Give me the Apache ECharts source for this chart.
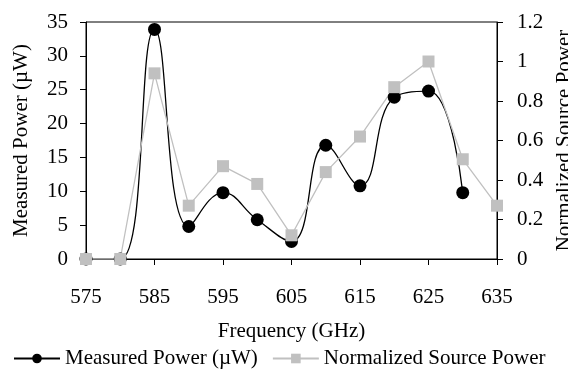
<!DOCTYPE html>
<html>
<head>
<meta charset="utf-8">
<script src="https://cdn.jsdelivr.net/npm/echarts@6/dist/echarts.min.js"></script>
<style>
  html, body { margin: 0; padding: 0; background: #fff; }
  #chart { width: 568px; height: 374px; }
</style>
</head>
<body>
<div id="chart"></div>
<script>
// frequencies in GHz
var freqMeasured = [575, 580, 585, 590, 595, 600, 605, 610, 615, 620, 625, 630];
var measuredPower = [0, 0, 33.9, 4.8, 9.8, 5.8, 2.6, 16.8, 10.8, 23.9, 24.8, 9.8];
var freqSource = [575, 580, 585, 590, 595, 600, 605, 610, 615, 620, 625, 630, 635];
var sourcePower = [0, 0, 0.94, 0.27, 0.47, 0.38, 0.12, 0.44, 0.62, 0.87, 1.0, 0.505, 0.27];

function pairs(xs, ys) {
    var out = [];
    for (var i = 0; i < xs.length; i++) out.push([xs[i], ys[i]]);
    return out;
}

var font = "'Liberation Serif', 'Times New Roman', serif";
var txt = { color: '#000', fontFamily: font, fontSize: 21 };

var myChart = echarts.init(document.getElementById('chart'));
var option = {
    animation: false,
    textStyle: txt,
    grid: {
        left: 86, right: 71, top: 22, bottom: 115,
        outerBoundsMode: 'none',
        containLabel: false,
        show: true, borderColor: '#000', borderWidth: 1
    },
    legend: {
        bottom: 0,
        left: 8,
        itemWidth: 46,
        itemHeight: 12,
        itemGap: 14,
        textStyle: txt,
        data: ['Measured Power (\u00b5W)', 'Normalized Source Power']
    },
    xAxis: {
        type: 'value',
        min: 575, max: 635, interval: 10,
        name: 'Frequency (GHz)',
        nameLocation: 'middle',
        nameGap: 62,
        nameTextStyle: txt,
        axisLine: { lineStyle: { color: '#000', width: 1 } },
        axisTick: { show: true, length: 6, lineStyle: { color: '#000' } },
        axisLabel: { margin: 28, color: '#000', fontFamily: font, fontSize: 21 },
        splitLine: { show: false }
    },
    yAxis: [
        {
            type: 'value',
            min: 0, max: 35, interval: 5,
            name: 'Measured Power (\u00b5W)',
            nameLocation: 'middle',
            nameGap: 54,
            nameTextStyle: txt,
            axisLine: { show: true, lineStyle: { color: '#000', width: 1 } },
            axisTick: { show: true, length: 6, lineStyle: { color: '#000' } },
            axisLabel: { margin: 18, color: '#000', fontFamily: font, fontSize: 21 },
            splitLine: { show: false }
        },
        {
            type: 'value',
            min: 0, max: 1.2, interval: 0.2,
            position: 'right',
            name: 'Normalized Source Power',
            nameLocation: 'middle',
            nameRotate: 90,
            nameGap: 56,
            nameTextStyle: txt,
            axisLine: { show: true, lineStyle: { color: '#000', width: 1 } },
            axisTick: { show: true, length: 6, lineStyle: { color: '#000' } },
            axisLabel: { margin: 20, color: '#000', fontFamily: font, fontSize: 21 },
            splitLine: { show: false }
        }
    ],
    series: [
        {
            name: 'Measured Power (\u00b5W)',
            type: 'line',
            yAxisIndex: 0,
            smooth: 0.45,
            symbol: 'circle',
            symbolSize: 13,
            itemStyle: { color: '#000' },
            lineStyle: { color: '#000', width: 1.3 },
            data: pairs(freqMeasured, measuredPower)
        },
        {
            name: 'Normalized Source Power',
            type: 'line',
            yAxisIndex: 1,
            symbol: 'rect',
            symbolSize: 12,
            itemStyle: { color: '#c0c0c0' },
            lineStyle: { color: '#c0c0c0', width: 1.3 },
            data: pairs(freqSource, sourcePower)
        }
    ]
};
myChart.setOption(option);
</script>
</body>
</html>
